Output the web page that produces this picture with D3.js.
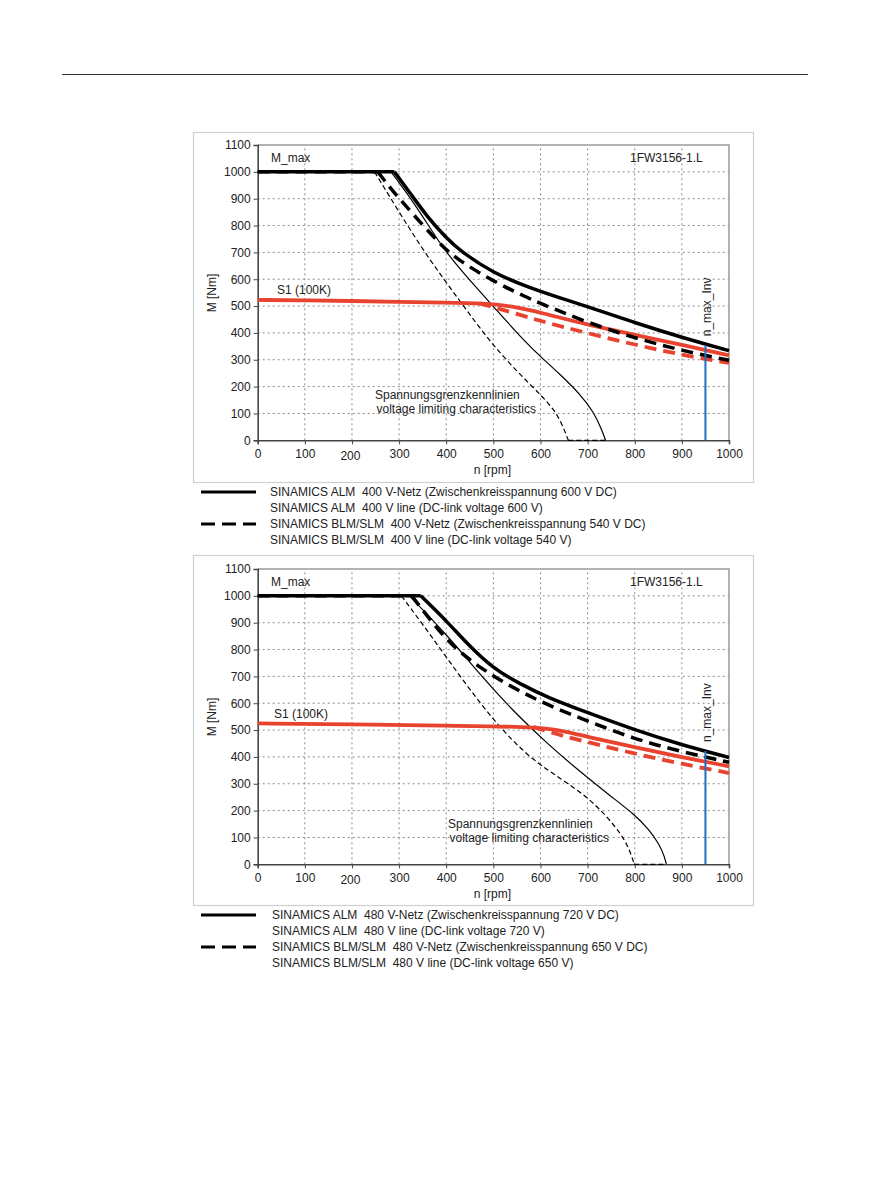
<!DOCTYPE html>
<html>
<head>
<meta charset="utf-8">
<script src="https://cdn.jsdelivr.net/npm/d3@7/dist/d3.min.js"></script>
<style>
  html, body { margin: 0; padding: 0; background: #fff; }
  svg { display: block; font-family: "Liberation Sans", Arial, sans-serif; }
  text { white-space: pre; }
</style>
</head>
<body>
<svg id="chart" width="893" height="1191"></svg>
<script>
// ---------- DATA ----------
const xTicks = [0, 100, 200, 300, 400, 500, 600, 700, 800, 900, 1000];
const yTicks = [0, 100, 200, 300, 400, 500, 600, 700, 800, 900, 1000, 1100];
const nMaxInv = 950;

// Chart 1: 400 V line  [n (rpm), M (Nm)]
const top_almMax = [[0,1000],[290,1000],[323,922],[359,834],[400,754],[430,704],[500,623],[571,572],[642,530],[700,498],[800,438],[900,383],[1000,334]];
const top_blmMax = [[0,1000],[255,1000],[281,940],[323,855],[387,730],[422,675],[500,592],[571,532],[600,510],[700,438],[800,381],[900,334],[1000,298]];
const top_almLim = [[283,1000],[337,872],[387,730],[430,635],[500,498],[571,360],[600,312],[642,245],[684,172],[713,105],[730,40],[738,0]];
const top_blmLim = [[248,1000],[288,884],[359,685],[430,517],[500,349],[571,220],[600,170],[627,118],[645,65],[659,0],[740,0]];
const top_s1     = [[0,523],[100,521],[200,519],[300,516],[400,513],[480,510],[540,500],[600,476],[700,430],[800,393],[900,356],[1000,316]];
const top_s1Dash = [[470,510],[500,496],[571,460],[600,444],[700,399],[800,356],[900,318],[1000,288]];
const top_nmaxTop = 354;

// Chart 2: 480 V line
const bot_almMax = [[0,1000],[346,1000],[401,906],[444,822],[500,728],[557,672],[614,622],[698,566],[797,502],[897,446],[1000,398]];
const bot_blmMax = [[0,1000],[327,1000],[373,894],[415,810],[472,731],[543,656],[614,594],[698,535],[797,468],[897,420],[1000,380]];
const bot_almLim = [[322,1000],[401,856],[472,706],[543,569],[614,450],[684,345],[748,255],[800,185],[830,130],[852,75],[863,30],[867,0]];
const bot_blmLim = [[305,1000],[366,856],[437,681],[508,519],[578,395],[642,320],[700,250],[740,180],[770,115],[788,60],[799,0],[865,0]];
const bot_s1     = [[0,525],[200,521],[400,517],[580,512],[642,500],[698,475],[797,437],[897,400],[1000,365]];
const bot_s1Dash = [[585,512],[614,496],[642,481],[698,456],[797,413],[897,375],[1000,340]];
const bot_nmaxTop = 422;

const legendTop = [
  "SINAMICS ALM  400 V-Netz (Zwischenkreisspannung 600 V DC)",
  "SINAMICS ALM  400 V line (DC-link voltage 600 V)",
  "SINAMICS BLM/SLM  400 V-Netz (Zwischenkreisspannung 540 V DC)",
  "SINAMICS BLM/SLM  400 V line (DC-link voltage 540 V)"
];
const legendBot = [
  "SINAMICS ALM  480 V-Netz (Zwischenkreisspannung 720 V DC)",
  "SINAMICS ALM  480 V line (DC-link voltage 720 V)",
  "SINAMICS BLM/SLM  480 V-Netz (Zwischenkreisspannung 650 V DC)",
  "SINAMICS BLM/SLM  480 V line (DC-link voltage 650 V)"
];

// ---------- DRAW ----------
const svg = d3.select("#chart");
svg.append("rect").attr("width", 893).attr("height", 1191).attr("fill", "#fff");
// page header rule
svg.append("line").attr("x1", 62).attr("x2", 808).attr("y1", 74.5).attr("y2", 74.5)
  .attr("stroke", "#333").attr("stroke-width", 1);

const RED = "#e8432e", BLACK = "#000", BLUE = "#1f6fbf";

function pathFor(pts, x, y) {
  // flat runs drawn straight, sloped runs drawn as smooth B-spline
  const lin = d3.line().x(d => x(d[0])).y(d => y(d[1]));
  const smooth = d3.line().x(d => x(d[0])).y(d => y(d[1])).curve(d3.curveBasis);
  let out = "";
  let i = 0;
  while (i < pts.length - 1) {
    const flat = pts[i][1] === pts[i+1][1];
    let j = i + 1;
    while (j < pts.length - 1 && (pts[j][1] === pts[j+1][1]) === flat) j++;
    const seg = pts.slice(i, j + 1);
    out += (flat ? lin(seg) : smooth(seg));
    i = j;
  }
  return out;
}

function drawChart(cfg) {
  const g = svg.append("g");
  // outer frame
  g.append("rect").attr("x", 193.5).attr("y", cfg.frameY + 0.5).attr("width", 560).attr("height", 350)
    .attr("fill", "#fff").attr("stroke", "#cfcfcf").attr("stroke-width", 1.2);

  const x = d3.scaleLinear().domain([0, 1000]).range([257.7, 729]);
  const y = d3.scaleLinear().domain([0, 1100]).range([cfg.plotTop + 295.3, cfg.plotTop]);

  // grid
  const grid = g.append("g").attr("stroke", "#8a8a8a").attr("stroke-width", 1).attr("stroke-dasharray", "2,3");
  xTicks.filter(v => v > 0 && v < 1000).forEach(v => {
    grid.append("line").attr("x1", x(v)).attr("x2", x(v)).attr("y1", y(0)).attr("y2", y(1100));
  });
  yTicks.filter(v => v > 0 && v < 1100).forEach(v => {
    grid.append("line").attr("x1", x(0)).attr("x2", x(1000)).attr("y1", y(v)).attr("y2", y(v));
  });
  // top/right border
  g.append("path").attr("d", `M${x(0)},${y(1100)}H${x(1000)}V${y(0)}`)
    .attr("fill", "none").attr("stroke", "#9a9a9a").attr("stroke-width", 1.5);

  // axes
  const fmt = d3.format("d");
  const ax = g.append("g").attr("transform", `translate(0,${y(0)})`)
    .call(d3.axisBottom(x).tickValues(xTicks).tickFormat(fmt).tickSize(4).tickPadding(5));
  const ay = g.append("g").attr("transform", `translate(${x(0)},0)`)
    .call(d3.axisLeft(y).tickValues(yTicks).tickFormat(fmt).tickSize(4).tickPadding(3));
  [ax, ay].forEach(a => {
    a.selectAll("path.domain").attr("stroke", "#444").attr("stroke-width", 1.6);
    a.selectAll(".tick line").attr("stroke", "#444");
    a.selectAll("text").attr("font-size", 12).attr("fill", "#222").attr("font-family", "Liberation Sans, Arial, sans-serif");
  });
  ax.selectAll(".tick text").filter(d => d === 200).attr("dy", "0.9em").attr("dx", "-2");

  // axis titles
  g.append("text").attr("x", x(500) - 1).attr("y", y(0) + 34).attr("text-anchor", "middle")
    .attr("font-size", 12).attr("fill", "#222").text("n [rpm]");
  g.append("text").attr("transform", `translate(216,${cfg.plotTop + 148}) rotate(-90)`)
    .attr("text-anchor", "middle").attr("font-size", 12).attr("fill", "#222").text("M [Nm]");

  // voltage limiting (thin)
  g.append("path").attr("d", pathFor(cfg.almLim, x, y)).attr("fill", "none")
    .attr("stroke", BLACK).attr("stroke-width", 1.2);
  g.append("path").attr("d", pathFor(cfg.blmLim, x, y)).attr("fill", "none")
    .attr("stroke", BLACK).attr("stroke-width", 1.2).attr("stroke-dasharray", "5,3");

  // S1 red
  g.append("path").attr("d", pathFor(cfg.s1Dash, x, y)).attr("fill", "none")
    .attr("stroke", RED).attr("stroke-width", 3.8).attr("stroke-dasharray", "12,7");
  g.append("path").attr("d", pathFor(cfg.s1, x, y)).attr("fill", "none")
    .attr("stroke", RED).attr("stroke-width", 3.8);

  // M_max black thick
  g.append("path").attr("d", pathFor(cfg.blmMax, x, y)).attr("fill", "none")
    .attr("stroke", BLACK).attr("stroke-width", 3.5).attr("stroke-dasharray", "12,7");
  g.append("path").attr("d", pathFor(cfg.almMax, x, y)).attr("fill", "none")
    .attr("stroke", BLACK).attr("stroke-width", 3.5);

  // n_max_Inv
  g.append("line").attr("x1", x(nMaxInv)).attr("x2", x(nMaxInv)).attr("y1", y(0)).attr("y2", y(cfg.nmaxTop))
    .attr("stroke", BLUE).attr("stroke-width", 2);
  g.append("text").attr("transform", `translate(${x(nMaxInv) + 6},${y(cfg.nmaxTop) - 9}) rotate(-90)`)
    .attr("font-size", 12).attr("fill", "#222").text("n_max_Inv");

  // annotations
  const t = (tx, ty, s) => g.append("text").attr("x", tx).attr("y", ty).attr("font-size", 12).attr("fill", "#222").text(s);
  t(271, y(1050) + 4, "M_max");
  t(630, y(1050) + 4, "1FW3156-1.L");
  t(cfg.s1x, y(560) + 4, "S1 (100K)");
  t(cfg.vx, cfg.vy, "Spannungsgrenzkennlinien");
  t(cfg.vx + 1.5, cfg.vy + 14, "voltage limiting characteristics");

  // legend
  const lg = g.append("g");
  const ly = cfg.legendY;
  const steps = [0, 15.5, 32, 47.5];
  lg.append("line").attr("x1", 201).attr("x2", 256).attr("y1", ly + steps[0] - 4).attr("y2", ly + steps[0] - 4)
    .attr("stroke", BLACK).attr("stroke-width", 3);
  lg.append("line").attr("x1", 201).attr("x2", 256).attr("y1", ly + steps[2] - 4).attr("y2", ly + steps[2] - 4)
    .attr("stroke", BLACK).attr("stroke-width", 3).attr("stroke-dasharray", "14,7");
  cfg.legend.forEach((s, i) => {
    lg.append("text").attr("x", cfg.legendX).attr("y", ly + steps[i]).attr("font-size", 12)
      .attr("fill", "#222").attr("xml:space", "preserve").text(s);
  });
}

drawChart({
  frameY: 132, plotTop: 145,
  almMax: top_almMax, blmMax: top_blmMax, almLim: top_almLim, blmLim: top_blmLim,
  s1: top_s1, s1Dash: top_s1Dash, nmaxTop: top_nmaxTop,
  s1x: 277, vx: 375, vy: 399,
  legend: legendTop, legendY: 496, legendX: 270
});
drawChart({
  frameY: 555, plotTop: 569,
  almMax: bot_almMax, blmMax: bot_blmMax, almLim: bot_almLim, blmLim: bot_blmLim,
  s1: bot_s1, s1Dash: bot_s1Dash, nmaxTop: bot_nmaxTop,
  s1x: 274, vx: 448, vy: 828,
  legend: legendBot, legendY: 919, legendX: 272
});
</script>
</body>
</html>
